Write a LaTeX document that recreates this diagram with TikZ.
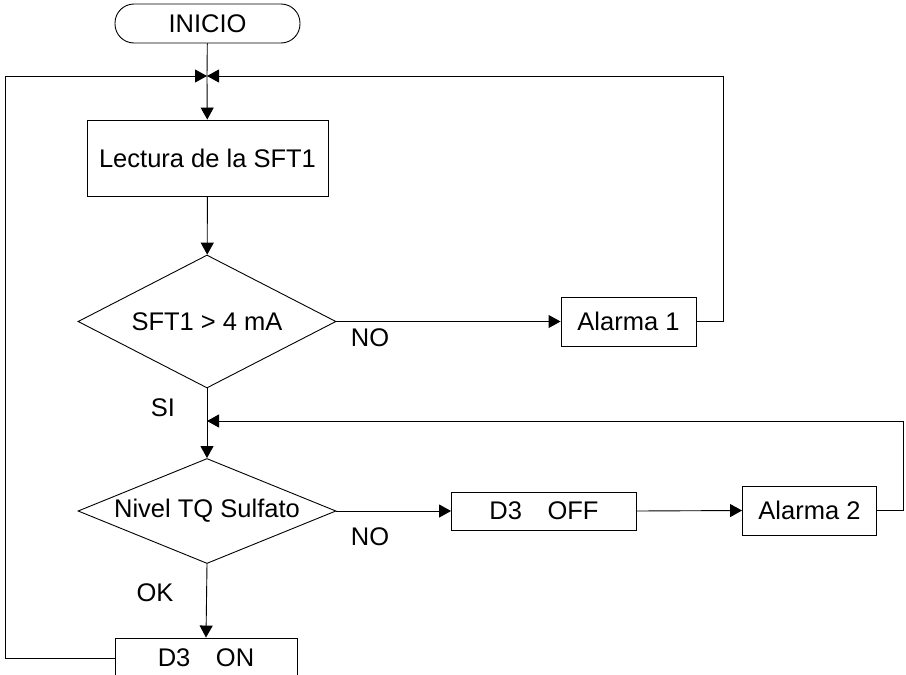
\documentclass[tikz,border=0pt]{standalone}
\usepackage{fontspec}
\setmainfont{Liberation Sans}
\usetikzlibrary{arrows.meta,shapes.geometric}

\tikzset{
 caja/.style={draw,rectangle,inner sep=0pt},
 decision/.style={draw,diamond,aspect=2.5,inner sep=0pt,minimum width=258pt},
 etiqueta/.style={inner sep=0pt}
}

\begin{document}
\begin{tikzpicture}[x=1pt,y=-1pt,line width=.9pt,>={Triangle[length=12pt,width=13pt]},
 font=\fontsize{25.5}{30}\selectfont]
\useasboundingbox (0,0) rectangle (906,675);
% bloques
\node[caja,rounded corners=19pt,minimum width=185pt,minimum height=39pt] (inicio) at (207.5,23.5) {INICIO};
\node[caja,minimum width=241pt,minimum height=76pt] (lectura) at (207.5,158) {Lectura de la SFT1};
\node[decision,minimum height=133pt] (dec1) at (207,321.5) {SFT1 > 4 mA};
\node[caja,minimum width=135pt,minimum height=49pt] (alarma1) at (628.5,321.5) {Alarma 1};
\node[decision,minimum height=105pt] (dec2) at (207,511) {Nivel TQ Sulfato};
\node[caja,minimum width=185pt,minimum height=38pt] (d3off) at (544,511) {D3\quad OFF};
\node[caja,minimum width=134pt,minimum height=49pt] (alarma2) at (809.5,510.5) {Alarma 2};
\node[caja,minimum width=182pt,minimum height=40pt] (d3on) at (206,658) {D3\quad ON};
% etiquetas
\node[etiqueta] (no1) at (370,338) {NO};
\node[etiqueta] (si) at (163,408) {SI};
\node[etiqueta] (no2) at (370,537) {NO};
\node[etiqueta] (ok) at (155,593) {OK};
% puntos de union
\coordinate (j1) at (207,76);
\coordinate (j2) at (207,421);
\coordinate (r1) at (723,76);
\coordinate (r2) at (903,421);
\coordinate (l1) at (5,76);
% flechas
\draw (inicio) -- (j1);
\draw[->] (j1) -- (lectura);
\draw[->] (lectura) -- (dec1);
\draw[->] (dec1.east) -- (alarma1.west);
\draw[->] (alarma1.east) -| (r1) -- (j1);
\draw (dec1.south) -- (j2);
\draw[->] (j2) -- (dec2.north);
\draw[->] (dec2.east) -- (d3off.west);
\draw[->] (d3off.east) -- (alarma2.west);
\draw[->] (alarma2.east) -| (r2) -- (j2);
\draw[->] (dec2.south) -- (d3on.north);
\draw[->] (d3on.west) -| (l1) -- (j1);
\end{tikzpicture}
\end{document}
